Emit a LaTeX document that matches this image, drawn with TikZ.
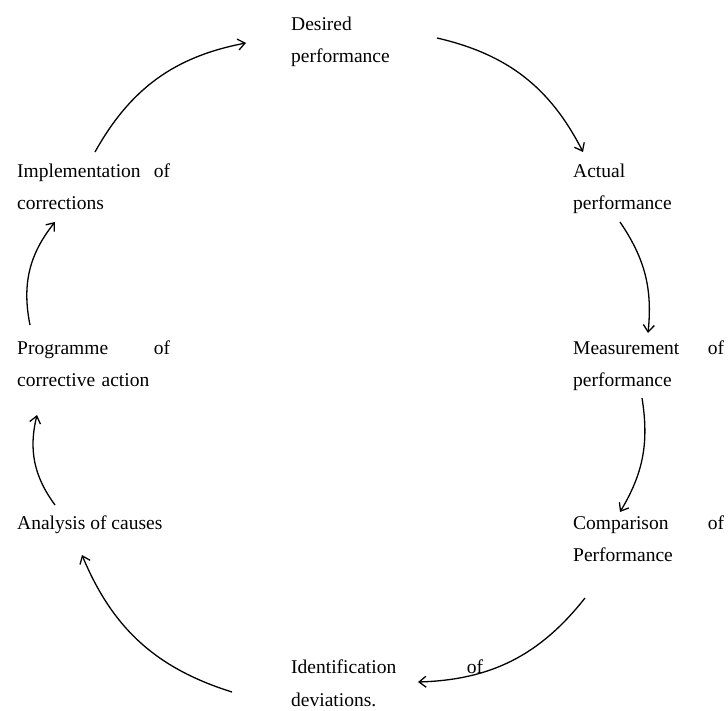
\documentclass[tikz,border=0pt]{standalone}
\usepackage{fontspec}
\setmainfont{Liberation Serif}
\usepackage{tikz}
\usetikzlibrary{arrows.meta,positioning}

\begin{document}
\begin{tikzpicture}[
    x=1pt, y=-1pt,
    >={Straight Barb[length=7pt,width=11pt,line width=1.3pt]},
    font=\fontsize{19.5}{32.5}\selectfont,
    stage/.style={
		anchor=north west,
		inner sep=0pt,
		align=left
	},
	flow/.style={
		->,
		line width=1.3pt,
		bend left=#1
	},
	flow/.default=25
  ]
  \useasboundingbox (0,0) rectangle (728,711);
    % We start by placing the blocks

  \node [stage] (desired) at (291,16.5) {Desired\\performance};
  \node [stage, text width=151] (actual) at (573,163.5) {Actual\\performance};
  \node [stage, text width=151] (measure) at (573,340.5) {Measurement\hfill of\\performance};
  \node [stage, text width=151] (compare) at (573,515.5) {Comparison\hfill of\\Performance};
  \node [stage, text width=192] (identify) at (291,660) {Identification\hfill of\\deviations.};
  \node [stage] (analysis) at (17,515.5) {Analysis of causes};
  \node [stage, text width=153] (programme) at (17,340.5) {Programme\hfill of\\corrective action};
  \node [stage, text width=153] (implement) at (17,163.5) {Implementation\hfill of\\corrections};

  % then the arrows round the cycle
  \draw [flow] ([shift={(78,-11.5)}]implement.north west) to ([shift={(-45,26.5)}]desired.north west);
  \draw [flow] ([shift={(146,21.5)}]desired.north west) to ([shift={(10,-11.5)}]actual.north west);
  \draw [flow=20] ([shift={(47,58.5)}]actual.north west) to ([shift={(75,-7.5)}]measure.north west);
  \draw [flow=20] ([shift={(69,57.5)}]measure.north west) to ([shift={(47,-3.5)}]compare.north west);
  \draw [flow] ([shift={(12,82.5)}]compare.north west) to ([shift={(127,22)}]identify.north west);
  \draw [flow] ([shift={(-59,32)}]identify.north west) to ([shift={(65,39.5)}]analysis.north west);
  \draw [flow] ([shift={(38,-10.5)}]analysis.north west) to ([shift={(20,74.5)}]programme.north west);
  \draw [flow] ([shift={(13,-15.5)}]programme.north west) to ([shift={(38,58.5)}]implement.north west);

\end{tikzpicture}
\end{document}
